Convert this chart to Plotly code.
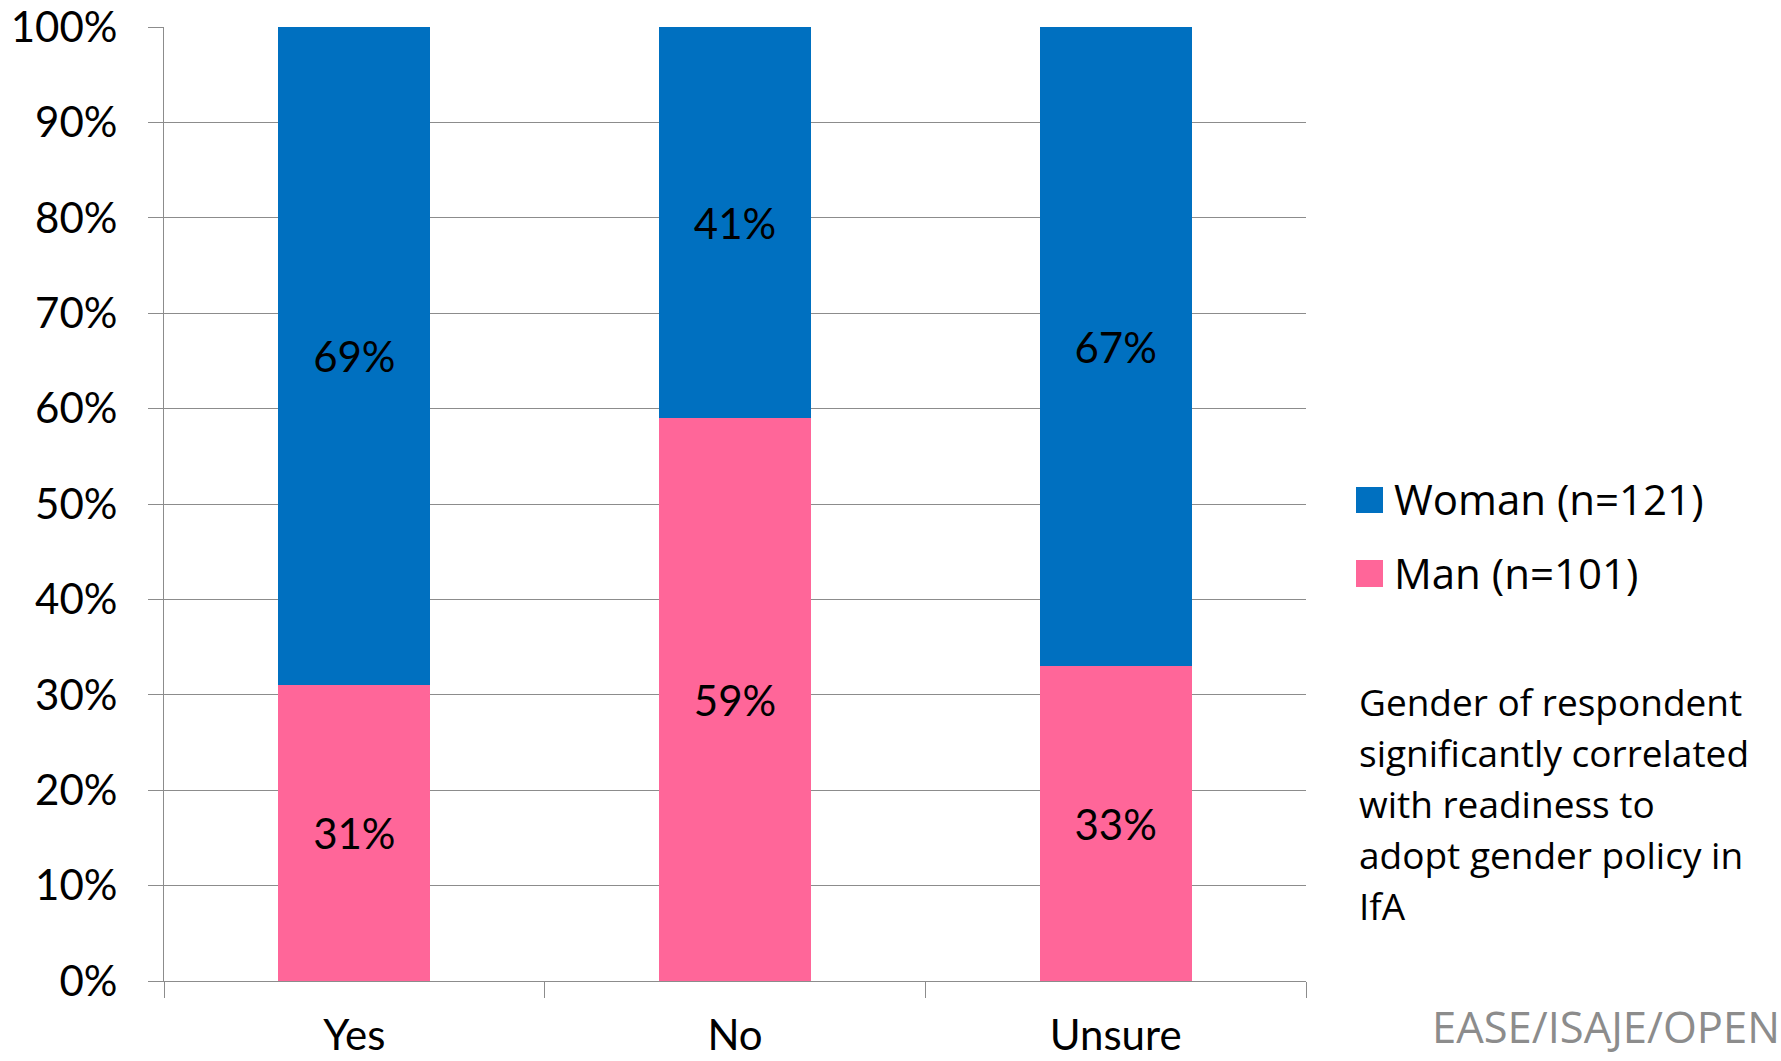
import plotly.graph_objects as go

# Survey answers and share of respondents (%) by gender
categories = ["Yes", "No", "Unsure"]
man_pct = [31, 59, 33]
woman_pct = [69, 41, 67]
man_name = "Man (n=101)"
woman_name = "Woman (n=121)"
note_lines = ["Gender of respondent", "significantly correlated",
              "with readiness to", "adopt gender policy in", "IfA"]
credit_text = "EASE/ISAJE/OPEN"

BLUE = "#0070C0"
PINK = "#FF6699"
GRID = "#8c8c8c"
AXIS_FONT = "Lato, 'Open Sans', sans-serif"
SIDE_FONT = "'Open Sans', 'Noto Sans', sans-serif"

W, H = 1781, 1061
M_L, M_R, M_T, M_B = 164, 475, 27, 80
PLOT_W = W - M_L - M_R
PLOT_H = H - M_T - M_B


def px_x(x):
    return (x - M_L) / PLOT_W


def px_y(y):
    return (H - M_B - y) / PLOT_H


def pct_labels(values):
    return [f"{v}%" for v in values]


fig = go.Figure()
for name, values, color in [(man_name, man_pct, PINK), (woman_name, woman_pct, BLUE)]:
    fig.add_trace(go.Bar(
        x=categories, y=values, name=name,
        marker=dict(color=color, line=dict(width=0)),
        text=pct_labels(values), texttemplate="%{text}",
        textposition="inside", insidetextanchor="middle",
        textangle=0, constraintext="none",
        textfont=dict(family=AXIS_FONT, size=42, color="black"),
        showlegend=False,
    ))

# Legend drawn as swatches plus labels to the right of the plot
legend_rows = [(woman_name, BLUE, 487, 513, 498), (man_name, PINK, 560, 587, 572)]
shapes = []
annotations = []
for label, color, y0, y1, yc in legend_rows:
    shapes.append(dict(type="rect", xref="paper", yref="paper",
                       x0=px_x(1356), x1=px_x(1383), y0=px_y(y1), y1=px_y(y0),
                       fillcolor=color, line=dict(width=0)))
    annotations.append(dict(text=label, xref="paper", yref="paper",
                            x=px_x(1392), y=px_y(yc), xanchor="left", yanchor="middle",
                            showarrow=False,
                            font=dict(family=SIDE_FONT, size=42, color="black")))

# Explanatory note, one line per annotation for even line spacing
for i, line in enumerate(note_lines):
    annotations.append(dict(text=line, xref="paper", yref="paper",
                            x=px_x(1357), y=px_y(701 + 51 * i),
                            xanchor="left", yanchor="middle", showarrow=False,
                            font=dict(family=SIDE_FONT, size=37, color="black")))

annotations.append(dict(text=credit_text, xref="paper", yref="paper",
                        x=px_x(1782), y=px_y(1026), xanchor="right", yanchor="middle",
                        showarrow=False,
                        font=dict(family=SIDE_FONT, size=43.5, color="#8c8c8c")))

fig.update_layout(
    width=W, height=H,
    margin=dict(l=M_L, r=M_R, t=M_T, b=M_B, pad=0),
    paper_bgcolor="white", plot_bgcolor="white",
    barmode="stack", bargap=0.6,
    shapes=shapes, annotations=annotations,
    font=dict(family=AXIS_FONT, color="black"),
)
fig.update_yaxes(
    range=[0, 100], dtick=10, ticksuffix="%",
    automargin=False,
    showgrid=True, gridcolor=GRID, gridwidth=1.3,
    zeroline=False,
    showline=True, linecolor=GRID, linewidth=1.3,
    ticks="outside", ticklen=15, tickcolor=GRID, tickwidth=1.3,
    ticklabelstandoff=22,
    tickfont=dict(family=AXIS_FONT, size=42, color="black"),
)
fig.update_xaxes(
    automargin=False,
    showgrid=False, zeroline=False,
    showline=True, linecolor=GRID, linewidth=1.3,
    ticks="outside", tickson="boundaries", ticklen=16, tickcolor=GRID, tickwidth=1.3,
    ticklabelstandoff=17,
    tickfont=dict(family=AXIS_FONT, size=42, color="black"),
)

fig.write_html("out.html")
